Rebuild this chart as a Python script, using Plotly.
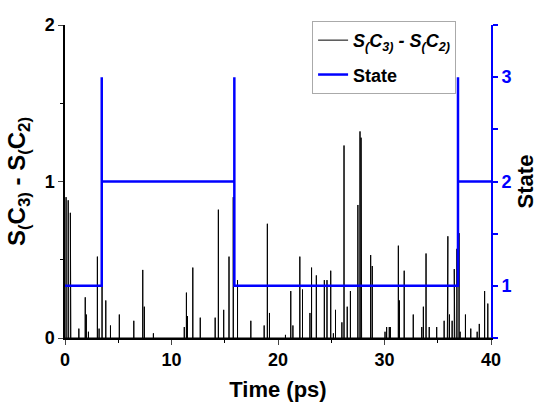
import plotly.graph_objects as go

# Spike events of S(C3) - S(C2): (time in ps, height)
spike_times = [0.1, 0.3, 0.5, 0.55, 1.3, 1.9, 2.0, 2.2, 3.04, 3.2, 3.48, 3.83, 4.27, 5.1, 6.46,
               7.3, 7.45, 8.3, 11.2, 11.4, 11.5, 12.0, 12.7, 14.1, 14.4, 14.9, 15.4, 15.8,
               16.2, 17.45, 18.7, 19.0, 19.2, 20.7, 21.2, 21.4, 22.05, 22.3, 23.0, 23.15,
               23.6, 24.35, 24.6, 24.95, 25.2, 25.4, 26.0, 26.2, 26.5, 26.8, 27.5, 27.7,
               27.8, 27.85, 28.7, 28.85, 30.05, 30.2, 30.45, 30.55, 31.3, 31.4, 31.85, 32.7,
               33.5, 33.65, 33.9, 34.2, 34.9, 35.6, 35.9, 35.95, 36.1, 36.35, 36.55, 36.6,
               36.8, 37.0, 37.1, 37.6, 38.1, 38.7, 38.9, 39.4, 39.7]
spike_heights = [0.90, 0.88, 0.80, 0.30, 0.06, 0.26, 0.15, 0.04, 0.52, 0.06, 0.775, 0.24, 0.08,
                 0.15, 0.11, 0.435, 0.20, 0.03, 0.07, 0.29, 0.14, 0.45, 0.13, 0.13, 0.82,
                 0.18, 0.52, 0.90, 0.37, 0.11, 0.08, 0.73, 0.16, 0.02, 0.30, 0.08, 0.52,
                 0.31, 0.16, 0.45, 0.40, 0.37, 0.37, 0.43, 0.03, 0.18, 0.10, 1.23, 0.20,
                 0.30, 0.85, 1.32, 1.28, 1.10, 0.53, 0.46, 0.04, 0.07, 0.07, 0.07, 0.59,
                 0.24, 0.43, 0.15, 0.07, 0.20, 0.54, 0.07, 0.07, 0.11, 0.46, 0.65, 0.15,
                 0.11, 0.44, 0.41, 0.57, 0.67, 0.04, 0.15, 0.06, 0.04, 0.09, 0.30, 0.22]

# State trajectory (step points)
state_times = [0, 3.45, 3.45, 3.45, 15.9, 15.9, 15.9, 36.9, 36.9, 36.9, 40]
state_values = [1, 1, 3, 2, 2, 3, 1, 1, 3, 2, 2]

x_ticks = [0, 10, 20, 30, 40]
y_ticks = [0, 1, 2]
y2_ticks = [1, 2, 3]

# Build spike polyline from the spike lists
sx, sy = [0.0], [0.0]
for t, h in sorted(zip(spike_times, spike_heights)):
    sx += [t, t, t]
    sy += [0.0, h, 0.0]
sx.append(40.0)
sy.append(0.0)

FONT = "Liberation Sans, Arial, sans-serif"
BLUE = "#0000ff"
SC = "S<sub>(</sub>C<sub>{n}</sub><sub>)</sub>"

fig = go.Figure()
fig.add_trace(go.Scatter(
    x=sx, y=sy, mode="lines", legendgroup="a",
    line=dict(color="black", width=1),
    name="<b><i>" + SC.format(n=3) + " - " + SC.format(n=2) + "</i></b>",
))
fig.add_trace(go.Scatter(
    x=state_times, y=state_values, mode="lines", yaxis="y2", legendgroup="b",
    line=dict(color=BLUE, width=2.5),
    name="<b>State</b>",
))

fig.update_layout(
    width=538, height=402,
    margin=dict(l=65, r=47, t=25, b=64),
    plot_bgcolor="white", paper_bgcolor="white",
    font=dict(family=FONT, size=16, color="black"),
    showlegend=True,
    legend=dict(
        x=0.58, y=1.013, xanchor="left", yanchor="top",
        bordercolor="#aaaaaa", borderwidth=1, bgcolor="white",
        font=dict(family=FONT, size=18, color="black"),
        tracegroupgap=8, itemwidth=30,
    ),
    xaxis=dict(
        range=[0, 40], tickvals=x_ticks, ticks="outside", ticklen=5, tickwidth=1.2,
        showline=True, linecolor="black", linewidth=1.5, showgrid=False, zeroline=False,
        tickfont=dict(family=FONT, size=18, weight="bold"), automargin=False,
        minor=dict(tickvals=[5, 15, 25, 35], ticks="outside", ticklen=3, tickcolor="black"),
        title=dict(text="<b>Time (ps)</b>", font=dict(family=FONT, size=22), standoff=17),
    ),
    yaxis=dict(
        range=[0, 2], tickvals=y_ticks, ticks="outside", ticklen=5, tickwidth=1.2,
        showline=True, linecolor="black", linewidth=1.5, showgrid=False, zeroline=False,
        tickfont=dict(family=FONT, size=18, weight="bold"), automargin=False,
        minor=dict(tickvals=[0.5, 1.5], ticks="outside", ticklen=3, tickcolor="black"),
        title=dict(text="<b>" + SC.format(n=3) + " - " + SC.format(n=2) + "</b>",
                   font=dict(family=FONT, size=24), standoff=12),
    ),
    yaxis2=dict(
        range=[0.5, 3.5], tickvals=y2_ticks, overlaying="y", side="right",
        ticks="outside", ticklen=5, tickwidth=1.5, tickcolor=BLUE,
        showline=True, linecolor=BLUE, linewidth=2, showgrid=False, zeroline=False,
        tickfont=dict(family=FONT, size=18, weight="bold", color=BLUE), automargin=False,
        minor=dict(tickvals=[0.5, 1.5, 2.5, 3.5], ticks="outside", ticklen=5, tickcolor=BLUE),
        title=dict(text="<b>State</b>", font=dict(family=FONT, size=22, color="black"), standoff=14),
    ),
)

fig.write_html("out.html")
